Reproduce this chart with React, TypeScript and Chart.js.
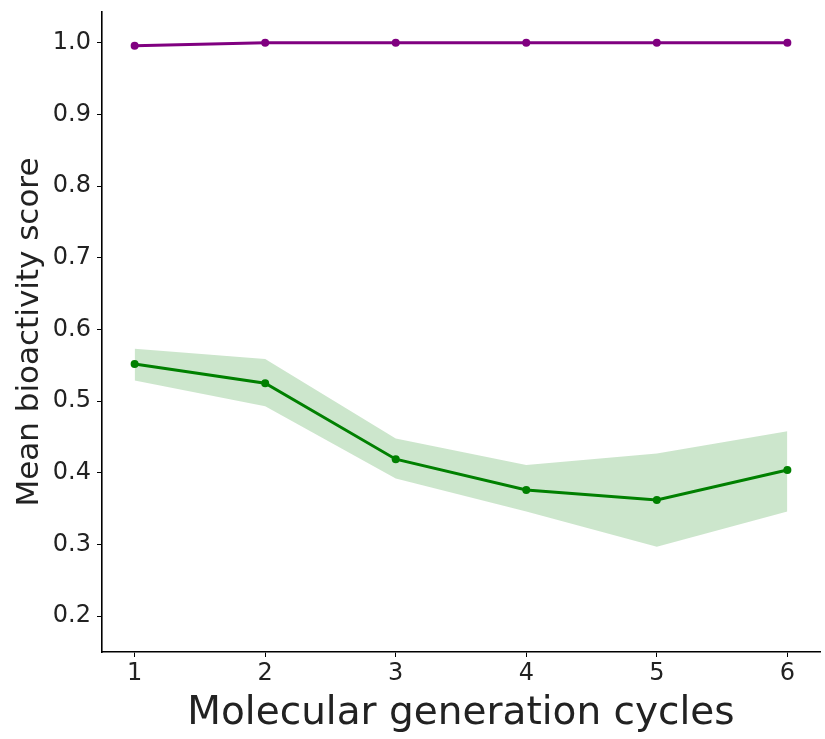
import React, { useEffect, useRef } from "react";
import { Chart, registerables } from "chart.js";

Chart.register(...registerables);

const cycles = [1, 2, 3, 4, 5, 6];
const purpleMean = [0.996, 1.0, 1.0, 1.0, 1.0, 1.0];
const greenMean = [0.552, 0.525, 0.419, 0.376, 0.362, 0.404];
const greenUpper = [0.573, 0.559, 0.448, 0.411, 0.427, 0.458];
const greenLower = [0.529, 0.493, 0.392, 0.346, 0.297, 0.346];
const yTicks = [0.2, 0.3, 0.4, 0.5, 0.6, 0.7, 0.8, 0.9, 1.0];

const toXY = (vals: number[]) => vals.map((v, i) => ({ x: cycles[i], y: v }));

export default function App() {
  const ref = useRef<HTMLCanvasElement | null>(null);
  useEffect(() => {
    if (!ref.current) return;
    const font = "'DejaVu Sans', sans-serif";
    const chart = new Chart(ref.current, {
      type: "line",
      data: {
        datasets: [
          {
            data: toXY(purpleMean),
            borderColor: "#800080",
            backgroundColor: "#800080",
            borderWidth: 3,
            pointRadius: 4,
            pointBorderWidth: 0,
            fill: false,
          },
          {
            data: toXY(greenMean),
            borderColor: "#008000",
            backgroundColor: "#008000",
            borderWidth: 3,
            pointRadius: 4,
            pointBorderWidth: 0,
            fill: false,
          },
          {
            data: toXY(greenUpper),
            borderWidth: 0,
            borderColor: "rgba(0,0,0,0)",
            pointRadius: 0,
            backgroundColor: "rgba(0,128,0,0.2)",
            fill: "+1",
          },
          {
            data: toXY(greenLower),
            borderWidth: 0,
            borderColor: "rgba(0,0,0,0)",
            pointRadius: 0,
            backgroundColor: "rgba(0,128,0,0.2)",
            fill: false,
          },
        ],
      },
      options: {
        animation: false,
        responsive: false,
        maintainAspectRatio: false,
        layout: { padding: { top: 12, right: 5, left: 0, bottom: 0 } },
        plugins: { legend: { display: false }, tooltip: { enabled: false } },
        scales: {
          x: {
            type: "linear",
            min: 0.75,
            max: 6.25,
            afterBuildTicks: (scale: any) => {
              scale.ticks = cycles.map((v) => ({ value: v }));
            },
            afterFit: (scale: any) => {
              scale.height = 87;
              scale.paddingLeft = 0;
              scale.paddingRight = 0;
            },
            grid: {
              drawOnChartArea: false,
              tickLength: 5,
              tickColor: "#000",
              tickWidth: 1,
            },
            border: { display: true, color: "#000", width: 1.6 },
            ticks: {
              color: "#222",
              font: { family: font, size: 24 },
              padding: 2,
              maxRotation: 0,
            },
            title: {
              display: true,
              text: "Molecular generation cycles",
              color: "#222",
              font: { family: font, size: 39 },
              padding: { top: 0, bottom: 2 },
            },
          },
          y: {
            type: "linear",
            min: 0.15,
            max: 1.043,
            afterBuildTicks: (scale: any) => {
              scale.ticks = yTicks.map((v) => ({ value: v }));
            },
            afterFit: (scale: any) => {
              scale.width = 102;
              scale.paddingTop = 0;
              scale.paddingBottom = 0;
            },
            grid: {
              drawOnChartArea: false,
              tickLength: 5,
              tickColor: "#000",
              tickWidth: 1,
            },
            border: { display: true, color: "#000", width: 1.6 },
            ticks: {
              color: "#222",
              font: { family: font, size: 24 },
              padding: 6,
              callback: (v: any) => Number(v).toFixed(1),
            },
            title: {
              display: true,
              text: "Mean bioactivity score",
              color: "#222",
              font: { family: font, size: 31 },
              padding: { top: 11, bottom: 0 },
            },
          },
        },
      },
    });
    return () => chart.destroy();
  }, []);
  return (
    <div style={{ position: "fixed", left: 0, top: 0, width: 825, height: 739, background: "#fff" }}>
      <canvas ref={ref} width={825} height={739} style={{ width: 825, height: 739 }} />
    </div>
  );
}
